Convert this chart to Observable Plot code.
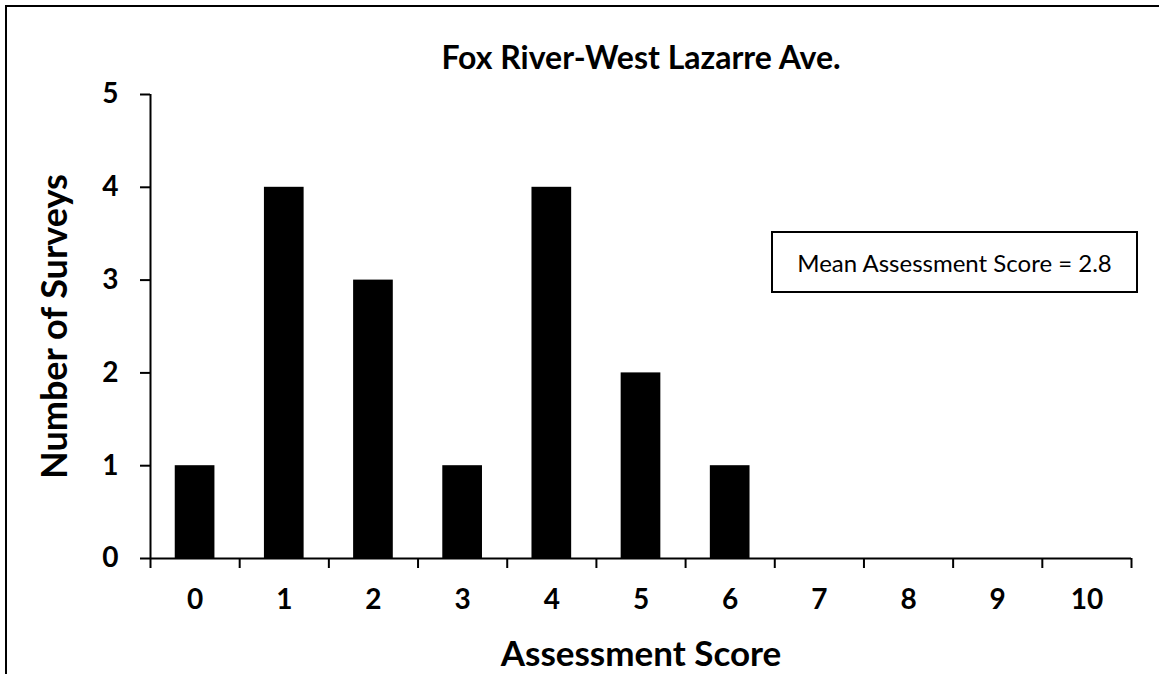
<!DOCTYPE html>
<html><head><meta charset="utf-8">
<script src="https://cdn.jsdelivr.net/npm/d3@7"></script>
<script src="https://cdn.jsdelivr.net/npm/@observablehq/plot@0.6"></script>
<style>
body{margin:0;background:#fff;}
#wrap{position:relative;width:1159px;height:674px;overflow:hidden;background:#fff;}
#chart{position:absolute;left:0;top:0;}
#border{position:absolute;left:5px;top:5px;width:1160px;height:700px;border-left:2px solid #000;border-top:2px solid #000;pointer-events:none;}
#note{position:absolute;left:771px;top:231px;width:367px;height:62px;box-sizing:border-box;border:2px solid #000;display:flex;align-items:center;justify-content:center;font:24px Lato, sans-serif;color:#000;}
</style></head>
<body><div id="wrap"><div id="chart"></div><div id="border"></div><div id="note"></div></div>
<script>
const scores = [0, 1, 2, 3, 4, 5, 6, 7, 8, 9, 10];
const counts = [1, 4, 3, 1, 4, 2, 1, 0, 0, 0, 0];
const yTicks = [0, 1, 2, 3, 4, 5];
const titleText = "Fox River-West Lazarre Ave.";
const xLabel = "Assessment Score";
const yLabel = "Number of Surveys";
const noteText = "Mean Assessment Score = 2.8";

const data = scores.map((s, i) => ({score: s, count: counts[i]}));
const boundaries = scores.map(s => s - 0.5).concat([scores[scores.length - 1] + 0.5]);
const half = 0.2225;

const chart = Plot.plot({
  width: 1159,
  height: 674,
  marginLeft: 150,
  marginRight: 28,
  marginTop: 94,
  marginBottom: 116,
  style: {fontFamily: "Lato, sans-serif", color: "#000", background: "transparent"},
  x: {domain: [-0.5, 10.5]},
  y: {domain: [0, 5]},
  marks: [
    Plot.rectY(data.filter(d => d.count > 0), {x1: d => d.score - half, x2: d => d.score + half, y1: 0, y2: "count", fill: "#000"}),
    Plot.ruleY([0], {stroke: "#000", strokeWidth: 2}),
    Plot.ruleX([-0.5], {stroke: "#000", strokeWidth: 2}),
    Plot.axisY({ticks: yTicks, tickSize: 10, tickFormat: () => "", label: null, strokeWidth: 2, strokeOpacity: 1}),
    Plot.axisX({ticks: boundaries, tickSize: 10, tickFormat: () => "", label: null, strokeWidth: 2, strokeOpacity: 1}),
    Plot.text(yTicks, {y: d => d, text: d => String(d), frameAnchor: "left", dx: -32, textAnchor: "end", lineAnchor: "middle", fontSize: 28, fontWeight: "bold"}),
    Plot.text(scores, {x: d => d, text: d => String(d), frameAnchor: "bottom", dy: 42, lineAnchor: "middle", fontSize: 28, fontWeight: "bold"}),
    Plot.text([titleText], {frameAnchor: "top", dy: -36, fontSize: 32, fontWeight: "bold", lineAnchor: "middle"}),
    Plot.text([xLabel], {frameAnchor: "bottom", dy: 96, fontSize: 35, fontWeight: "bold", lineAnchor: "middle"}),
    Plot.text([yLabel], {frameAnchor: "left", dx: -95, rotate: -90, fontSize: 36, fontWeight: "bold", textAnchor: "middle", lineAnchor: "middle"})
  ]
});
document.getElementById("chart").appendChild(chart);
document.getElementById("note").textContent = noteText;
</script>
</body></html>
